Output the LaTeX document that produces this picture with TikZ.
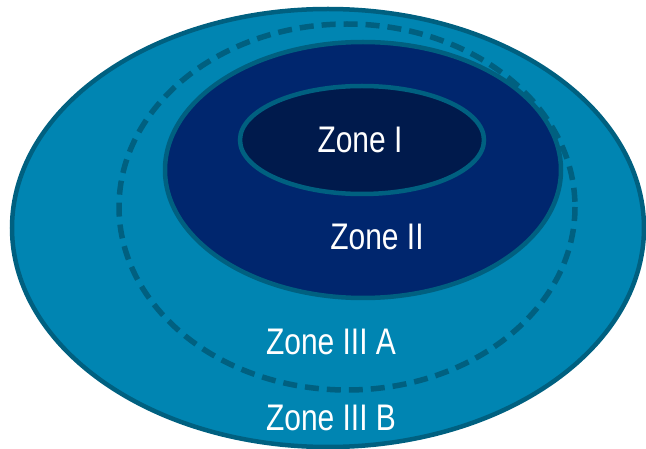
\documentclass[tikz,border=0pt]{standalone}
\usepackage{fontspec}
\setmainfont{Liberation Sans}
\newfontfamily\zonefont[FakeStretch=0.81]{Liberation Sans}
\definecolor{zoneouter}{RGB}{0,133,178}
\definecolor{zonetwo}{RGB}{0,38,110}
\definecolor{zoneone}{RGB}{0,26,76}
\definecolor{zoneline}{RGB}{0,96,128}
\begin{document}
\begin{tikzpicture}[x=1pt, y=-1pt, line width=4.5pt,
  zone area/.style={draw=zoneline},
  zone label/.style={anchor=base, text=white, inner sep=0pt, font=\zonefont\fontsize{37}{40}\selectfont}]
\useasboundingbox (0,0) rectangle (646,449);
\begin{scope}
\draw[zone area, fill=zoneouter] (328,228) ellipse (316 and 219);
\draw[zone area, line width=5.5pt, dash pattern=on 14pt off 8pt] (347,207) ellipse (228 and 183);
\draw[zone area, fill=zonetwo] (363,170) ellipse (198 and 128);
\draw[zone area, fill=zoneone] (362,140) ellipse (122 and 54);
\end{scope}
\begin{scope}[every node/.style={zone label}]
\node (z1) at (360,153) {Zone I};
\node (z2) at (377,250) {Zone II};
\node (z3a) at (331,355) {Zone III A};
\node (z3b) at (331,431) {Zone III B};
\end{scope}
\end{tikzpicture}
\end{document}
